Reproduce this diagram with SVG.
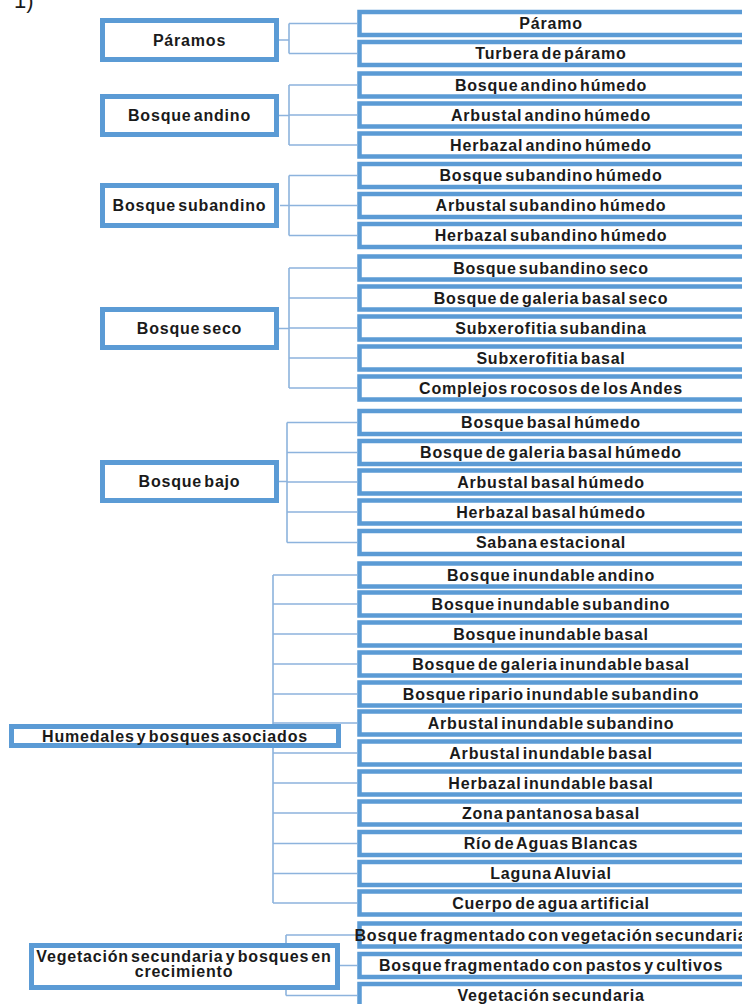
<svg xmlns="http://www.w3.org/2000/svg" width="742" height="1004" viewBox="0 0 742 1004">
<style>
.bg{fill:#ffffff}
.pn{fill:#ffffff;stroke:#5b9bd5;stroke-width:5}
.cn{fill:#ffffff;stroke:#5b9bd5;stroke-width:4.5}
.ln{fill:none;stroke:#8db3dd;stroke-width:1.6}
.t{font-family:"Liberation Sans",Arial,sans-serif;font-weight:bold;font-size:16px;fill:#1a1a1a;text-anchor:middle;letter-spacing:0.8px;word-spacing:-3px}
</style>
<rect class="bg" x="0" y="0" width="742" height="1004"/>
<text x="14" y="8" font-family="'Liberation Sans',Arial,sans-serif" font-size="22" fill="#1a1a1a">1)</text>
<g id="connectors">
<path class="ln" d="M279,40 H289 M289,23.5 V53.5 M289,23.5 H357 M289,53.5 H357"/>
<path class="ln" d="M279,115.5 H289 M289,85 V145 M289,85 H357 M289,115 H357 M289,145 H357"/>
<path class="ln" d="M280,205.5 H289 M289,175.5 V235.5 M289,175.5 H357 M289,205.5 H357 M289,235.5 H357"/>
<path class="ln" d="M279,328.5 H289 M289,268 V388 M289,268 H357 M289,298 H357 M289,328 H357 M289,358 H357 M289,388 H357"/>
<path class="ln" d="M279,481.5 H287 M287,422.5 V542.5 M287,422.5 H357 M287,452.5 H357 M287,482 H357 M287,512 H357 M287,542.5 H357"/>
<path class="ln" d="M273,575 V903 M273,575 H357 M273,604 H357 M273,634 H357 M273,664 H357 M273,694 H357 M273,723 H357 M273,753 H357 M273,783 H357 M273,813 H357 M273,843.5 H357 M273,873.5 H357 M273,903 H357"/>
<path class="ln" d="M286,935 V995.5 M286,935 H357 M340,965.5 H357 M286,995.5 H357"/>
</g>
<g id="n-paramos"><rect class="pn" x="102.5" y="20.5" width="174" height="39"/><text class="t" x="189.5" y="45.8">Páramos</text></g>
<g id="n-bosque-andino"><rect class="pn" x="102.5" y="96.5" width="174" height="38"/><text class="t" x="189.5" y="121.3">Bosque andino</text></g>
<g id="n-bosque-subandino"><rect class="pn" x="102.5" y="185.5" width="174" height="40"/><text class="t" x="189.5" y="211.3">Bosque subandino</text></g>
<g id="n-bosque-seco"><rect class="pn" x="102.5" y="309.5" width="174" height="38"/><text class="t" x="189.5" y="334.3">Bosque seco</text></g>
<g id="n-bosque-bajo"><rect class="pn" x="102.5" y="462.5" width="174" height="38"/><text class="t" x="189.5" y="487.3">Bosque bajo</text></g>
<g id="n-humedales"><rect class="pn" x="11.5" y="726.5" width="327" height="19"/><text class="t" x="175" y="741.8">Humedales y bosques asociados</text></g>
<g id="n-vegetacion"><rect class="pn" x="31.5" y="945.5" width="306" height="42"/><text class="t" x="184" y="962">Vegetación secundaria y bosques en</text><text class="t" x="184" y="977">crecimiento</text></g>
<g id="c01"><rect class="cn" x="359.5" y="12" width="420" height="23"/><text class="t" x="551" y="29.3">Páramo</text></g>
<g id="c02"><rect class="cn" x="359.5" y="42" width="420" height="23"/><text class="t" x="551" y="59.3">Turbera de páramo</text></g>
<g id="c03"><rect class="cn" x="359.5" y="73.5" width="420" height="23"/><text class="t" x="551" y="90.8">Bosque andino húmedo</text></g>
<g id="c04"><rect class="cn" x="359.5" y="103.5" width="420" height="23"/><text class="t" x="551" y="120.8">Arbustal andino húmedo</text></g>
<g id="c05"><rect class="cn" x="359.5" y="133.5" width="420" height="23"/><text class="t" x="551" y="150.8">Herbazal andino húmedo</text></g>
<g id="c06"><rect class="cn" x="359.5" y="164" width="420" height="23"/><text class="t" x="551" y="181.3">Bosque subandino húmedo</text></g>
<g id="c07"><rect class="cn" x="359.5" y="194" width="420" height="23"/><text class="t" x="551" y="211.3">Arbustal subandino húmedo</text></g>
<g id="c08"><rect class="cn" x="359.5" y="224" width="420" height="23"/><text class="t" x="551" y="241.3">Herbazal subandino húmedo</text></g>
<g id="c09"><rect class="cn" x="359.5" y="256.5" width="420" height="23"/><text class="t" x="551" y="273.8">Bosque subandino seco</text></g>
<g id="c10"><rect class="cn" x="359.5" y="286.5" width="420" height="23"/><text class="t" x="551" y="303.8">Bosque de galeria basal seco</text></g>
<g id="c11"><rect class="cn" x="359.5" y="316.5" width="420" height="23"/><text class="t" x="551" y="333.8">Subxerofitia subandina</text></g>
<g id="c12"><rect class="cn" x="359.5" y="346.5" width="420" height="23"/><text class="t" x="551" y="363.8">Subxerofitia basal</text></g>
<g id="c13"><rect class="cn" x="359.5" y="376.5" width="420" height="23"/><text class="t" x="551" y="393.8">Complejos rocosos de los Andes</text></g>
<g id="c14"><rect class="cn" x="359.5" y="411" width="420" height="23"/><text class="t" x="551" y="428.3">Bosque basal húmedo</text></g>
<g id="c15"><rect class="cn" x="359.5" y="441" width="420" height="23"/><text class="t" x="551" y="458.3">Bosque de galeria basal húmedo</text></g>
<g id="c16"><rect class="cn" x="359.5" y="470.5" width="420" height="23"/><text class="t" x="551" y="487.8">Arbustal basal húmedo</text></g>
<g id="c17"><rect class="cn" x="359.5" y="500.5" width="420" height="23"/><text class="t" x="551" y="517.8">Herbazal basal húmedo</text></g>
<g id="c18"><rect class="cn" x="359.5" y="531" width="420" height="23"/><text class="t" x="551" y="548.3">Sabana estacional</text></g>
<g id="c19"><rect class="cn" x="359.5" y="563.5" width="420" height="23"/><text class="t" x="551" y="580.8">Bosque inundable andino</text></g>
<g id="c20"><rect class="cn" x="359.5" y="592.5" width="420" height="23"/><text class="t" x="551" y="609.8">Bosque inundable subandino</text></g>
<g id="c21"><rect class="cn" x="359.5" y="622.5" width="420" height="23"/><text class="t" x="551" y="639.8">Bosque inundable basal</text></g>
<g id="c22"><rect class="cn" x="359.5" y="652.5" width="420" height="23"/><text class="t" x="551" y="669.8">Bosque de galeria inundable basal</text></g>
<g id="c23"><rect class="cn" x="359.5" y="682.5" width="420" height="23"/><text class="t" x="551" y="699.8">Bosque ripario inundable subandino</text></g>
<g id="c24"><rect class="cn" x="359.5" y="711.5" width="420" height="23"/><text class="t" x="551" y="728.8">Arbustal inundable subandino</text></g>
<g id="c25"><rect class="cn" x="359.5" y="741.5" width="420" height="23"/><text class="t" x="551" y="758.8">Arbustal inundable basal</text></g>
<g id="c26"><rect class="cn" x="359.5" y="771.5" width="420" height="23"/><text class="t" x="551" y="788.8">Herbazal inundable basal</text></g>
<g id="c27"><rect class="cn" x="359.5" y="801.5" width="420" height="23"/><text class="t" x="551" y="818.8">Zona pantanosa basal</text></g>
<g id="c28"><rect class="cn" x="359.5" y="832" width="420" height="23"/><text class="t" x="551" y="849.3">Río de Aguas Blancas</text></g>
<g id="c29"><rect class="cn" x="359.5" y="862" width="420" height="23"/><text class="t" x="551" y="879.3">Laguna Aluvial</text></g>
<g id="c30"><rect class="cn" x="359.5" y="891.5" width="420" height="23"/><text class="t" x="551" y="908.8">Cuerpo de agua artificial</text></g>
<g id="c31"><rect class="cn" x="359.5" y="923.5" width="420" height="23"/><text class="t" x="551" y="940.8">Bosque fragmentado con vegetación secundaria</text></g>
<g id="c32"><rect class="cn" x="359.5" y="954" width="420" height="23"/><text class="t" x="551" y="971.3">Bosque fragmentado con pastos y cultivos</text></g>
<g id="c33"><rect class="cn" x="359.5" y="984" width="420" height="23"/><text class="t" x="551" y="1001.3">Vegetación secundaria</text></g>
</svg>
